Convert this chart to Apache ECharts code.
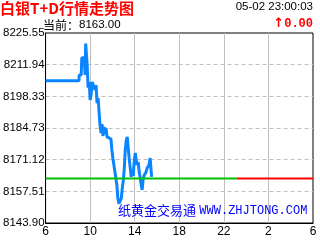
<!DOCTYPE html>
<html><head><meta charset="utf-8">
<script src="https://cdn.jsdelivr.net/npm/echarts@6/dist/echarts.min.js"></script>
<style>html,body{margin:0;padding:0;background:#fff}#c{width:320px;height:240px}</style>
</head><body><div id="c"></div>
<script>
const titleText = '白银T+D行情走势图';
const currentLabel = '当前：';
const currentPrice = '8163.00';
const dateTimeText = '05-02 23:00:03';
const changeText = '0.00';
const watermarkCn = '纸黄金交易通';
const watermarkEn = 'WWW.ZHJTONG.COM';
const xTickLabels = ['6', '10', '14', '18', '22', '2', '6'];
const yTickLabels = ['8143.90', '8157.51', '8171.12', '8184.73', '8198.33', '8211.94', '8225.55'];
const yMin = 8143.90;
const yMax = 8225.55;
const refPrice = 8163.00;
const refStart = '06:00';
const refSplit = '23:10';
const refEnd = '06:00+';
const times = ['06:00','09:00','09:01','09:12','09:15','09:28','09:33','09:36','09:41','09:44','09:49','09:55',
  '10:00','10:05','10:11','10:21','10:27','10:32','10:37','10:43','10:48','10:53','10:59',
  '11:04','11:09','11:15','11:20','11:25','11:31','11:41','11:52','11:57',
  '12:03','12:13','12:16','12:24','12:29','12:35','12:43','12:48','12:53','12:59',
  '13:04','13:09','13:15','13:20','13:25','13:31','13:36','13:41','13:47','13:52','13:57',
  '14:03','14:08','14:13','14:19','14:24','14:29','14:35','14:40','14:45','14:51','14:59',
  '15:07','15:12','15:17','15:23','15:28','15:31'];
const prices = [8205.0,8205.0,8207.5,8207.5,8214.9,8214.9,8207.5,8221.0,8220.4,8211.8,8202.0,8204.5,
  8196.8,8198.9,8204.5,8204.5,8201.1,8203.2,8195.4,8197.6,8191.6,8186.0,8182.6,
  8186.4,8181.3,8185.2,8182.1,8184.7,8180.9,8180.4,8180.0,8175.3,
  8171.4,8171.0,8164.5,8160.2,8154.6,8152.2,8151.4,8154.6,8158.9,8162.4,
  8167.5,8175.3,8179.6,8180.9,8176.1,8171.0,8167.5,8163.7,8166.7,8164.1,8170.1,
  8174.0,8171.0,8168.8,8170.1,8165.8,8163.7,8160.2,8158.1,8162.4,8164.5,8165.4,
  8167.5,8166.7,8168.8,8171.8,8171.0,8163.7];

function toMin(t) {
  if (t.endsWith('+')) return 1440;
  const [h, m] = t.split(':').map(Number);
  return ((h * 60 + m) - 360 + 1440) % 1440;
}
const yInterval = (yMax - yMin) / (yTickLabels.length - 1);
const xInterval = 1440 / (xTickLabels.length - 1);
const priceData = times.map((t, i) => [toMin(t), prices[i] - yMin]);
const greenData = [[toMin(refStart), refPrice - yMin], [toMin(refSplit), refPrice - yMin]];
const redData = [[toMin(refSplit), refPrice - yMin], [toMin(refEnd), refPrice - yMin]];

const chart = echarts.init(document.getElementById('c'), null, {renderer: 'canvas'});
chart.setOption({
  animation: false,
  backgroundColor: '#fff',
  grid: {left: 43, right: 7, top: 33, bottom: 17, show: true, borderColor: '#000', borderWidth: 1, backgroundColor: 'transparent'},
  xAxis: {
    type: 'value', min: 0, max: 1440, interval: xInterval,
    axisLine: {show: true, lineStyle: {color: '#000', width: 1}},
    axisTick: {show: false},
    axisLabel: {
      margin: 3, color: '#000', fontFamily: 'Liberation Sans', fontSize: 12,
      showMinLabel: true, showMaxLabel: true,
      formatter: v => xTickLabels[Math.round(v / xInterval)]
    },
    splitLine: {show: true, showMinLine: false, showMaxLine: false, lineStyle: {color: '#c0c0c0', width: 1, type: 'solid'}}
  },
  yAxis: {
    type: 'value', min: 0, max: yMax - yMin, interval: yInterval,
    axisLine: {show: true, lineStyle: {color: '#000', width: 1}},
    axisTick: {show: false},
    axisLabel: {
      margin: 1, color: '#000', fontFamily: 'Liberation Sans', fontSize: 11.5,
      showMinLabel: true, showMaxLabel: true,
      formatter: v => yTickLabels[Math.round(v / yInterval)]
    },
    splitLine: {show: true, showMinLine: false, showMaxLine: false, lineStyle: {color: '#c0c0c0', width: 1, type: [4, 3]}}
  },
  series: [
    {type: 'line', data: priceData, showSymbol: false, lineStyle: {color: '#0a84ff', width: 3}, itemStyle: {color: '#0a84ff'}, z: 3},
    {type: 'line', data: greenData, showSymbol: false, lineStyle: {color: '#00c000', width: 2}, z: 4},
    {type: 'line', data: redData, showSymbol: false, lineStyle: {color: '#ff0000', width: 2}, z: 4}
  ],
  graphic: [
    {type: 'text', left: 0, top: 1, style: {text: titleText, fill: '#ff0000', font: 'bold 15px "Noto Sans CJK SC"'}},
    {type: 'text', right: 7, top: 1, style: {text: dateTimeText, fill: '#000', font: '11.5px "Liberation Sans"'}},
    {type: 'text', right: 7, top: 17, style: {text: '{a|↑}{b|' + changeText + '}', rich: {
      a: {fill: '#ff0000', font: 'bold 13px "DejaVu Sans"'},
      b: {fill: '#ff0000', font: 'bold 12px "Liberation Mono"'}
    }}},
    {type: 'text', left: 43, top: 19, style: {text: '{a|' + currentLabel + '}{b|' + currentPrice + '}', rich: {
      a: {fill: '#000', font: '12px "Noto Sans CJK SC"'},
      b: {fill: '#000', font: '11.5px "Liberation Sans"'}
    }}},
    {type: 'text', left: 118, top: 204, z: 10, style: {text: '{a|' + watermarkCn + '} {b|' + watermarkEn + '}', rich: {
      a: {fill: '#0000ff', font: '13px "Noto Sans CJK SC"'},
      b: {fill: '#0000ff', font: '12px "Liberation Mono"'}
    }}}
  ]
});
</script></body></html>
